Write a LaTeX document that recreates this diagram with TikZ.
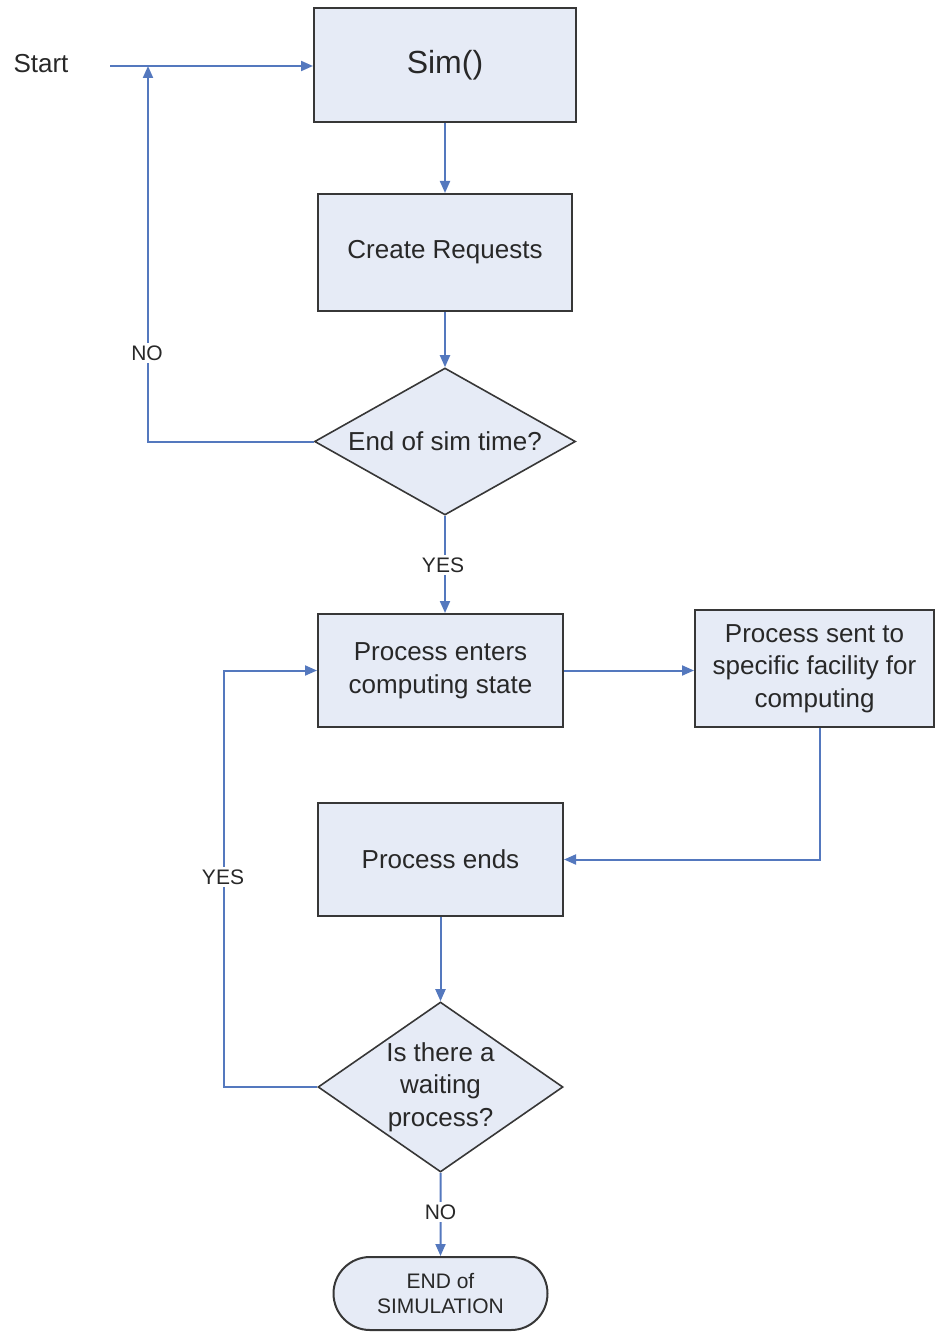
\documentclass[tikz,border=0pt]{standalone}
\usepackage{fontspec}
\setmainfont{Liberation Sans}
\usetikzlibrary{arrows.meta}
\usetikzlibrary{shapes}
\definecolor{boxfill}{RGB}{230,235,246}
\definecolor{boxline}{RGB}{55,55,55}
\definecolor{flowline}{RGB}{84,120,190}
\definecolor{inktext}{RGB}{40,40,40}
\tikzset{
  block/.style={draw=boxline, fill=boxfill, line width=2pt, text=inktext,
    font=\fontsize{26}{32.5}\selectfont, align=center, inner sep=0},
  decision/.style={block, diamond, line width=1.6pt},
  terminal/.style={block, rounded rectangle, font=\fontsize{21}{25}\selectfont},
  flow/.style={draw=flowline, line width=2pt, -{Triangle[length=12pt,width=10pt]}},
  tag/.style={fill=white, text=inktext, font=\fontsize{21}{25}\selectfont, inner sep=3pt}
}

\begin{document}
\begin{tikzpicture}[x=1pt, y=-1pt]
  \useasboundingbox (0,0) rectangle (935,1332);

  % boxes
  \node[text=inktext, font=\fontsize{26}{32.5}\selectfont, anchor=west] (start) at (10,64) {Start};
  \coordinate (startend) at (110,66);
  \node[block, minimum width=262pt, minimum height=114pt, font=\fontsize{32}{38}\selectfont] (sim) at (445,65) {Sim()};
  \node[block, minimum width=254pt, minimum height=117pt] (create) at (445,252.5) {Create Requests};
  \node[decision, minimum width=261pt, minimum height=147pt, aspect=1.78] (simtime) at (445,441.5) {End of sim time?};
  \node[block, minimum width=245pt, minimum height=113pt] (enter) at (440.5,670.5) {Process enters\\computing state};
  \node[block, minimum width=239pt, minimum height=117pt] (facility) at (814.5,668.5) {Process sent to\\specific facility for\\computing};
  \node[block, minimum width=245pt, minimum height=113pt] (ends) at (440.5,859.5) {Process ends};
  \node[decision, minimum width=245pt, minimum height=170pt, aspect=1.44] (waiting) at (440.5,1087) {Is there a\\waiting\\process?};
  \node[terminal, minimum width=214pt, minimum height=73pt] (stop) at (440.5,1293.5) {END of\\SIMULATION};

  % connectors
  \coordinate (noloop) at (148,66);
  \coordinate (yesloop) at (224,670.5);
  \draw[flow] (startend) -- (startend -| sim.west);
  \draw[flow] (sim) -- (create);
  \draw[flow] (create) -- (simtime);
  \draw[flow] (simtime.west) -| (noloop);
  \draw[flow] (simtime.south) -- (simtime.south |- enter.north);
  \draw[flow] (enter.east) -- (enter.east -| facility.west);
  \draw[flow] ([xshift=5pt]facility.south) |- (ends.east);
  \draw[flow] (ends) -- (waiting);
  \draw[flow] (waiting.west) -| (yesloop) -- (enter.west);
  \draw[flow] (waiting) -- (stop);

  % labels on the lines
  \node[tag] (notime) at (147,353) {NO};
  \node[tag] (yestime) at (443,565) {YES};
  \node[tag] (yeswait) at (223,877) {YES};
  \node[tag] (nowait) at (440.5,1212) {NO};
\end{tikzpicture}
\end{document}
